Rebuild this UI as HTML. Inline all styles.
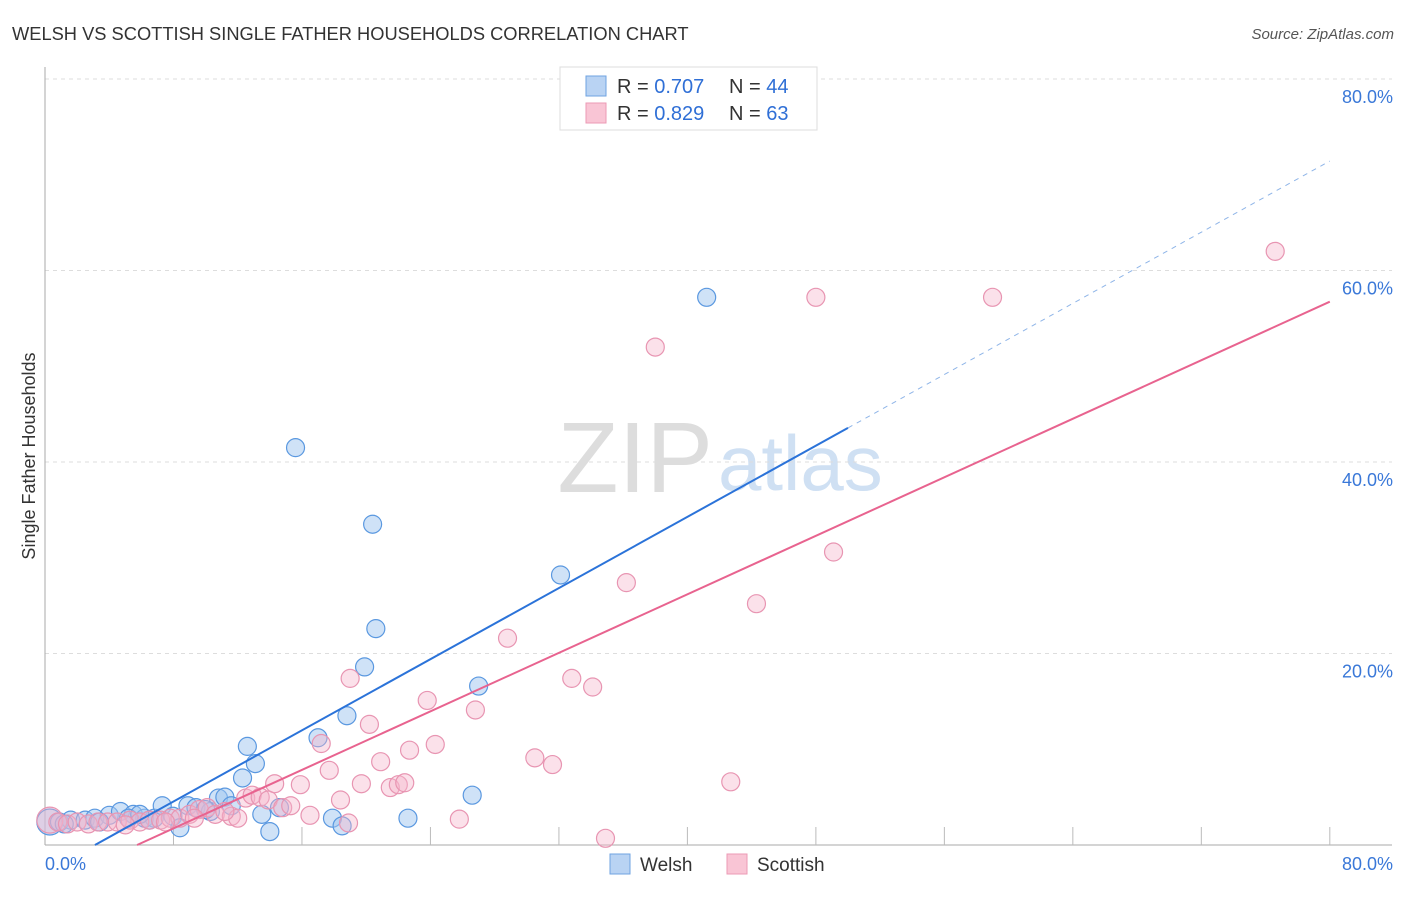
<!DOCTYPE html>
<html><head><meta charset="utf-8"><style>
body{margin:0;background:#fff;font-family:"Liberation Sans",sans-serif;}
svg text{font-family:"Liberation Sans",sans-serif;}
</style></head><body>
<svg width="1406" height="892" id="c">
<text x="12" y="40" font-size="18.3" fill="#333">WELSH VS SCOTTISH SINGLE FATHER HOUSEHOLDS CORRELATION CHART</text>
<text x="1394" y="39" font-size="15" fill="#555" font-style="italic" text-anchor="end">Source: ZipAtlas.com</text>
<text x="35" y="456" font-size="18" fill="#333" transform="rotate(-90 35 456)" text-anchor="middle">Single Father Households</text>
<text x="713" y="492" font-size="100" fill="#ddd" text-anchor="end" font-family="Liberation Serif">ZIP</text>
<text x="718" y="490" font-size="78" fill="#cfe0f3">atlas</text>
<g id="grid"></g><g id="pts"></g><g id="lines"></g>
<g>
<rect x="560" y="67" width="257" height="63" fill="#fff" stroke="#ddd"/>
<rect x="586" y="76" width="20" height="20" fill="#b9d3f3" stroke="#6fa3e2"/>
<rect x="586" y="103" width="20" height="20" fill="#f9c5d5" stroke="#ec9ab5"/>
<text x="617" y="93" font-size="20" fill="#333">R = <tspan fill="#2f6fd6">0.707</tspan></text>
<text x="729" y="93" font-size="20" fill="#333">N = <tspan fill="#2f6fd6">44</tspan></text>
<text x="617" y="120" font-size="20" fill="#333">R = <tspan fill="#2f6fd6">0.829</tspan></text>
<text x="729" y="120" font-size="20" fill="#333">N = <tspan fill="#2f6fd6">63</tspan></text>
</g>
<g>
<rect x="610" y="854" width="20" height="20" fill="#b9d3f3" stroke="#6fa3e2"/>
<text x="640" y="871" font-size="19" fill="#333">Welsh</text>
<rect x="727" y="854" width="20" height="20" fill="#f9c5d5" stroke="#ec9ab5"/>
<text x="757" y="871" font-size="19" fill="#333">Scottish</text>
</g>
</svg>
<script>
const yTicks=[20,40,60,80];
const yTickLabels=["20.0%","40.0%","60.0%","80.0%"];
const welshX=[0.3,0.9,1.6,2.5,3.1,4.0,4.7,5.5,6.2,6.8,7.3,7.967,8.4,8.9,9.4,10.3,10.8,11.2,11.6,12.3,12.6,13.1,13.5,14.0,14.6,15.6,17.0,17.9,18.5,18.8,19.9,20.4,20.6,22.6,26.6,27.0,32.1,41.2,3.4,5.2,6.5,10.0,5.9,1.2];
const welshY=[2.4,2.4,2.6,2.6,2.8,3.1,3.5,3.2,2.8,2.8,4.1,3.0,1.8,4.1,3.9,3.5,4.9,5.0,4.1,7.0,10.3,8.5,3.2,1.4,3.9,41.5,11.2,2.8,2.0,13.5,18.6,33.5,22.6,2.8,5.2,16.6,28.2,57.2,2.4,2.8,2.6,3.7,3.2,2.2];
const scotX=[0.3,0.8,1.4,2.0,2.7,3.3,3.9,4.5,5.3,5.9,6.5,7.2,7.8,8.4,9.0,9.6,10.1,10.6,11.6,12.0,12.5,12.9,13.4,13.9,14.3,14.8,15.3,15.9,16.5,17.2,17.7,18.4,18.9,19.0,19.7,20.2,20.9,21.5,22.0,22.4,22.7,23.8,24.3,25.8,26.8,28.8,30.5,31.6,32.8,34.1,34.9,36.2,38.0,42.7,44.3,48.0,49.1,59.0,76.6,5.0,7.5,11.2,9.3];
const scotY=[2.6,2.4,2.2,2.4,2.2,2.4,2.4,2.4,2.6,2.4,2.6,2.6,2.8,2.8,3.2,3.7,3.9,3.2,3.0,2.8,4.9,5.2,5.0,4.7,6.4,3.9,4.1,6.3,3.1,10.6,7.8,4.7,2.3,17.4,6.4,12.6,8.7,6.0,6.3,6.5,9.9,15.1,10.5,2.7,14.1,21.6,9.1,8.4,17.4,16.5,0.7,27.4,52.0,6.6,25.2,57.2,30.6,57.2,62.0,2.1,2.4,3.5,2.8];
const welshLine=[0.929,-2.89];
const scotLine=[0.764,-4.38];
const X=v=>45+v*16.06, Y=v=>845-v*9.575;
const NS="http://www.w3.org/2000/svg";
function mk(t,a,p){const e=document.createElementNS(NS,t);for(const k in a)e.setAttribute(k,a[k]);p.appendChild(e);return e;}
const grid=document.getElementById('grid');
yTicks.forEach((t,i)=>{
 const l=mk('line',{x1:45,x2:1392,y1:Y(t),y2:Y(t),stroke:'#ddd','stroke-dasharray':'4,4'},grid);
 
 
 const tx=mk('text',{x:1393,y:Y(t)+24,'font-size':18,fill:'#3a78d8','text-anchor':'end'},grid);
 tx.textContent=yTickLabels[i];
 
 
});
const ax=mk('line',{x1:45,x2:45,y1:67,y2:845,stroke:'#aaa'},grid);


const bx=mk('line',{x1:45,x2:1392,y1:845,y2:845,stroke:'#aaa'},grid);


for(let i=1;i<=10;i++){const t=mk('line',{x1:X(i*8),x2:X(i*8),y1:827,y2:845,stroke:'#bbb'},grid);
 
 }
const x0=mk('text',{x:45,y:870,'font-size':18,fill:'#3a78d8'},grid);x0.textContent='0.0%';


const x1=mk('text',{x:1393,y:870,'font-size':18,fill:'#3a78d8','text-anchor':'end'},grid);x1.textContent='80.0%';


const pts=document.getElementById('pts');
welshX.forEach((x,i)=>{const c=mk('circle',{cx:X(x),cy:Y(welshY[i]),r:i==0?13:9,fill:'rgba(160,198,240,0.5)',stroke:'#5a98e0','stroke-width':1.2},pts);
 
 });
scotX.forEach((x,i)=>{const c=mk('circle',{cx:X(x),cy:Y(scotY[i]),r:i==0?13:9,fill:'rgba(246,180,202,0.4)',stroke:'#e895b2','stroke-width':1.2},pts);
 
 });
const lg=document.getElementById('lines');
const wx0=-welshLine[1]/welshLine[0];
const wl=mk('line',{x1:X(wx0),y1:Y(0),x2:X(50),y2:Y(welshLine[0]*50+welshLine[1]),stroke:'#2b73d9','stroke-width':2},lg);


const wd=mk('line',{x1:X(50),y1:Y(welshLine[0]*50+welshLine[1]),x2:X(80),y2:Y(welshLine[0]*80+welshLine[1]),stroke:'#8fb5e8','stroke-width':1,'stroke-dasharray':'5,5'},lg);


const sx0=-scotLine[1]/scotLine[0];
const sl=mk('line',{x1:X(sx0),y1:Y(0),x2:X(80),y2:Y(scotLine[0]*80+scotLine[1]),stroke:'#e8638f','stroke-width':2},lg);


</script>
</body></html>
